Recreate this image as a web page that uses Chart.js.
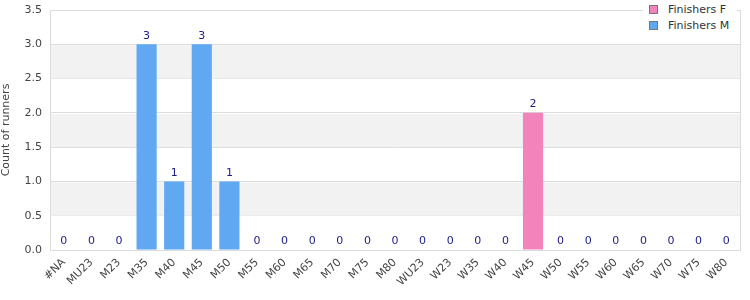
<!DOCTYPE html>
<html>
<head>
<meta charset="utf-8">
<script src="https://cdn.jsdelivr.net/npm/chart.js@4/dist/chart.umd.min.js"></script>
<style>
    body { margin: 0; background: #fff; }
    #wrap { position: relative; width: 750px; height: 300px; }
    #legend {
        position: absolute; left: 643px; top: 1px; width: 94px; height: 31px;
        background: #fff; font: 11px "DejaVu Sans", sans-serif; color: #333;
    }
    .item { display: flex; align-items: center; height: 16px; }
    .swatch { width: 7px; height: 7px; border: 1px solid #777; margin: 0 10px 0 6px; }
</style>
</head>
<body>
<div id="wrap">
    <canvas id="chart" width="750" height="300"></canvas>
    <div id="legend"></div>
</div>
<script>
    const categories = ['#NA', 'MU23', 'M23', 'M35', 'M40', 'M45', 'M50', 'M55', 'M60', 'M65', 'M70', 'M75', 'M80',
        'WU23', 'W23', 'W35', 'W40', 'W45', 'W50', 'W55', 'W60', 'W65', 'W70', 'W75', 'W80'];
    const finishersF = [0, 0, 0, 0, 0, 0, 0, 0, 0, 0, 0, 0, 0, 0, 0, 0, 0, 2, 0, 0, 0, 0, 0, 0, 0];
    const finishersM = [0, 0, 0, 3, 1, 3, 1, 0, 0, 0, 0, 0, 0, 0, 0, 0, 0, 0, 0, 0, 0, 0, 0, 0, 0];
    const seriesNames = ['Finishers F', 'Finishers M'];
    const seriesColors = ['#f283bb', '#60a8f2'];

    const font = { family: 'DejaVu Sans', size: 11 };

    // Alternate grey bands between y grid lines + frame around the plot
    const bandsPlugin = {
        id: 'bands',
        beforeDatasetsDraw(chart) {
            const { ctx, chartArea: a, scales: { y } } = chart;
            ctx.save();
            ctx.fillStyle = '#f2f2f2';
            y.ticks.forEach((t, i) => {
                if (i > 0 && i % 2 === 0) {
                    const top = y.getPixelForValue(t.value);
                    const bottom = y.getPixelForValue(y.ticks[i - 1].value);
                    ctx.fillRect(a.left + 1, top + 1, a.right - a.left - 1, bottom - top - 1);
                }
            });
            ctx.strokeStyle = '#dcdcdc';
            ctx.lineWidth = 1;
            ctx.strokeRect(a.left + 0.5, a.top + 0.5, a.right - a.left, a.bottom - a.top);
            ctx.restore();
        }
    };

    // Totals above each stacked bar
    const totalsPlugin = {
        id: 'totals',
        afterDatasetsDraw(chart) {
            const { ctx, scales: { x, y } } = chart;
            ctx.save();
            ctx.font = '11px "DejaVu Sans"';
            ctx.fillStyle = '#1c1c8a';
            ctx.textAlign = 'center';
            ctx.textBaseline = 'bottom';
            categories.forEach((c, i) => {
                const total = finishersF[i] + finishersM[i];
                ctx.fillText(String(total), x.getPixelForValue(i), y.getPixelForValue(total) - 3);
            });
            ctx.restore();
        }
    };

    const chart = new Chart(document.getElementById('chart'), {
        type: 'bar',
        data: {
            labels: categories,
            datasets: [
                { label: seriesNames[0], data: finishersF, backgroundColor: seriesColors[0] },
                { label: seriesNames[1], data: finishersM, backgroundColor: seriesColors[1] }
            ]
        },
        options: {
            responsive: false,
            animation: false,
            layout: { padding: { top: 10, right: 10 } },
            datasets: { bar: { categoryPercentage: 1, barPercentage: 0.73 } },
            plugins: { legend: { display: false }, tooltip: { enabled: false } },
            scales: {
                x: {
                    stacked: true,
                    grid: { display: false, drawTicks: false },
                    border: { color: '#d6d6d6' },
                    ticks: { font, color: '#444', minRotation: 45, maxRotation: 45, autoSkip: false, padding: 6 },
                    afterFit(s) { s.height = 50; s.paddingRight = 0; }
                },
                y: {
                    stacked: true,
                    min: 0, max: 3.5,
                    grid: { color: '#dcdcdc', drawTicks: false },
                    border: { color: '#d6d6d6' },
                    ticks: { stepSize: 0.5, font, color: '#444', padding: 8, callback: v => v.toFixed(1) },
                    title: { display: true, text: 'Count of runners', font, color: '#444', padding: 0 },
                    afterFit(s) { s.width = 50; s.paddingTop = 0; s.paddingBottom = 0; }
                }
            }
        },
        plugins: [bandsPlugin, totalsPlugin]
    });

    document.getElementById('legend').innerHTML = seriesNames.map((n, i) =>
        `<div class="item"><span class="swatch" style="background:${seriesColors[i]}"></span>${n}</div>`).join('');
</script>
</body>
</html>
